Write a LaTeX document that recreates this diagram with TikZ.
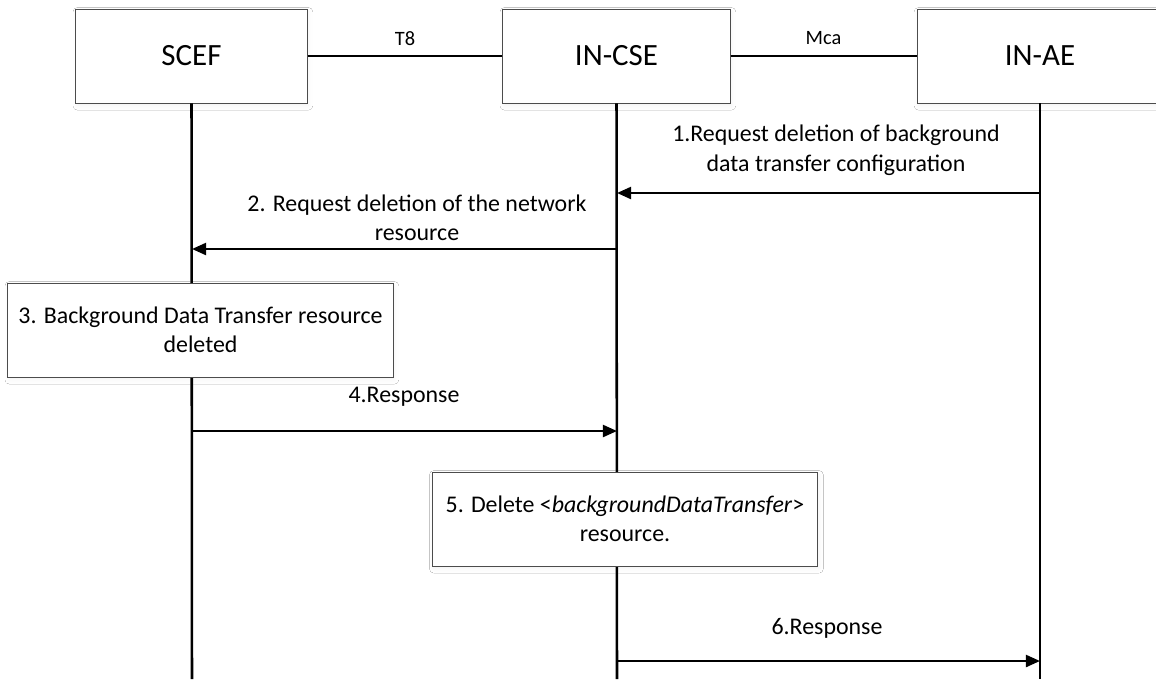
\documentclass[tikz,border=0pt]{standalone}
\usepackage{fontspec}
\setmainfont{Carlito}
\usetikzlibrary{arrows.meta,positioning,shadows.blur}

\begin{document}
\begin{tikzpicture}[x=0.025cm,y=-0.025cm,>={Triangle[length=10pt,width=8.5pt]},
 entity/.style = {draw=black!70, line width=0.6pt, fill=white, minimum width=5.78cm, minimum height=2.35cm, font=\fontsize{22}{26}\selectfont,
   blur shadow={shadow xshift=1pt, shadow yshift=-2pt, shadow opacity=5, shadow blur radius=3pt}},
 action/.style = {entity, minimum width=9.63cm, align=center, font=\fontsize{17}{21}\selectfont},
 life/.style = {line width=1.8pt},
 msg/.style = {->, line width=1.7pt},
 lbl/.style = {align=center, font=\fontsize{17}{21}\selectfont},
 iface/.style = {font=\fontsize{14.5}{17}\selectfont},]
\clip (0,0) rectangle (1156,679);
\fill[white] (0,0) rectangle (1156,679);
% entities
\node (scef) at (191.5,56)[entity] {SCEF};
\node (incse) at (616.5,56)[entity,minimum width=5.68cm] {IN-CSE};
\node (inae) at (1040,56)[entity,minimum width=6.15cm] {IN-AE};
\draw[line width=1.4pt] (scef)--(incse) node[midway,yshift=12.7pt,iface] {T8};
\draw[line width=1.4pt] (incse)--(inae) node[midway,yshift=12.7pt,iface] {Mca};
% lifelines
\coordinate (scefend) at (192,679);
\coordinate (incseend) at (617,679);
\coordinate (inaeend) at (1040,679);
\draw[life] (scef.south)--(scefend);
\draw[life] (incse.south)--(incseend);
\draw[life] (inae.south)--(inaeend);
% messages
\coordinate (m1a) at (1040,193); \coordinate (m1b) at (617,193);
\coordinate (m2a) at (617,249);  \coordinate (m2b) at (192,249);
\coordinate (m4a) at (192,431);  \coordinate (m4b) at (617,431);
\coordinate (m6a) at (617,661);  \coordinate (m6b) at (1040,661);
\draw[msg] (m1a)--(m1b);
\draw[msg] (m2a)--(m2b);
\draw[msg] (m4a)--(m4b);
\draw[msg] (m6a)--(m6b);
\node (l1) at (836,150)[lbl] {1.Request deletion of background\\data transfer configuration};
\node (l2) at (417,218)[lbl] {2. Request deletion of the network\\resource};
\node (l4) at (404,397)[lbl] {4.Response};
\node (l6) at (827,628)[lbl] {6.Response};
% local actions
\node (act3) at (200.5,330)[action] {3. Background Data Transfer resource\\deleted};
\node (act5) at (625,519)[action] {5. Delete <\textit{backgroundDataTransfer}>\\resource.};
\end{tikzpicture}
\end{document}
